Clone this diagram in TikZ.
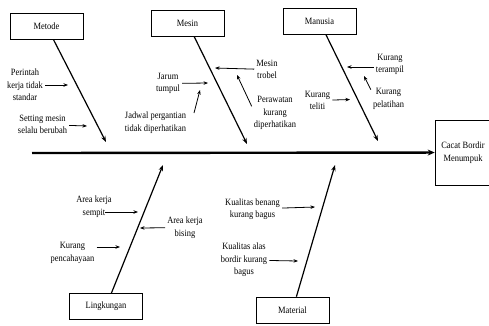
\documentclass[tikz,border=0pt]{standalone}
\usepackage{fontspec}
\setmainfont{Liberation Serif}[FakeStretch=0.88]
\usetikzlibrary{arrows.meta}
\tikzset{
	box/.style={draw, line width=0.6pt, minimum width=73pt, minimum height=26pt, inner sep=1pt},
	cause/.style={align=center, inner sep=2pt},
	bone/.style={line width=1.2pt, -{Stealth[length=6pt, width=4.5pt]}},
	spine/.style={line width=2.4pt, -{Stealth[length=7pt, width=6pt]}},
	arr/.style={line width=0.8pt, -{Stealth[length=4.5pt, width=3.5pt]}}
}
\begin{document}
\begin{tikzpicture}[x=1pt, y=-1pt, font=\fontsize{9.6}{12.5}\selectfont]
	\useasboundingbox (0,0) rectangle (489,325);
	\coordinate (t1) at (106,142);
	\coordinate (t2) at (247,144);
	\coordinate (t3) at (378,141);
	\coordinate (t4) at (163,165);
	\coordinate (t5) at (335,165);
	\coordinate (ekor) at (32,153);
	\node (efek) at (463,152.5) [box, minimum width=56pt, minimum height=65pt, align=center] {Cacat Bordir\\Menumpuk};
	\draw [spine] (ekor) -- (efek);
	\node (metode) at (46.5,26) [box] {Metode} edge [bone] (t1);
	\node (mesin) at (187.5,23) [box] {Mesin} edge [bone] (t2);
	\node (manusia) at (319.5,21.5) [box] {Manusia} edge [bone] (t3);
	\node (lingkungan) at (106,306.5) [box] {Lingkungan} edge [bone] (t4);
	\node (material) at (292.5,310) [box] {Material} edge [bone] (t5);
	\coordinate (s1) at (68,85);
	\coordinate (s2) at (87,126);
	\coordinate (s3) at (208,83);
	\coordinate (a4) at (194,113);
	\coordinate (s4) at (200,90);
	\coordinate (s5) at (215,68);
	\coordinate (s6) at (237,75);
	\coordinate (s7) at (347,67);
	\coordinate (s8) at (364,76);
	\coordinate (s9) at (350,99.5);
	\coordinate (s10) at (138,212);
	\coordinate (s11) at (140,228);
	\coordinate (s12) at (120,247);
	\coordinate (s13) at (315,207);
	\coordinate (s14) at (298,261);
	\node (perintah) at (25,85) [cause] {Perintah\\kerja tidak\\standar} edge [arr] (s1);
	\node (setting) at (42.5,124.5) [cause] {Setting mesin\\selalu berubah} edge [arr] (s2);
	\node (jarum) at (168,83.5) [cause] {Jarum\\tumpul} edge [arr] (s3);
	\node (jadwal) at (155.5,122.5) [cause] {Jadwal pergantian\\tidak diperhatikan};
	\draw [arr] (a4) -- (s4);
	\node (trobel) at (267,69.5) [cause] {Mesin\\trobel} edge [arr] (s5);
	\node (perawatan) at (275,113) [cause] {Perawatan\\kurang\\diperhatikan};
	\draw [arr] (perawatan.164) -- (s6);
	\node (terampil) at (390,64.5) [cause] {Kurang\\terampil};
	\draw [arr] (terampil.west |- s7) -- (s7);
	\node (pelatihan) at (388.5,99) [cause] {Kurang\\pelatihan};
	\draw [arr] (pelatihan.152) -- (s8);
	\node (teliti) at (317.5,100.5) [cause] {Kurang\\teliti} edge [arr] (s9);
	\node (sempit) at (94,206.5) [cause] {Area kerja\\sempit};
	\draw [arr] ([xshift=-9pt]sempit.east |- s10) -- (s10);
	\node (bising) at (185,227.5) [cause] {Area kerja\\bising} edge [arr] (s11);
	\node (pencahayaan) at (72.5,253) [cause] {Kurang\\pencahayaan};
	\draw [arr] (pencahayaan.east |- s12) -- (s12);
	\node (benang) at (252.5,209) [cause] {Kualitas benang\\kurang bagus} edge [arr] (s13);
	\node (alas) at (244,260) [cause] {Kualitas alas\\bordir kurang\\bagus} edge [arr] (s14);
\end{tikzpicture}
\end{document}
